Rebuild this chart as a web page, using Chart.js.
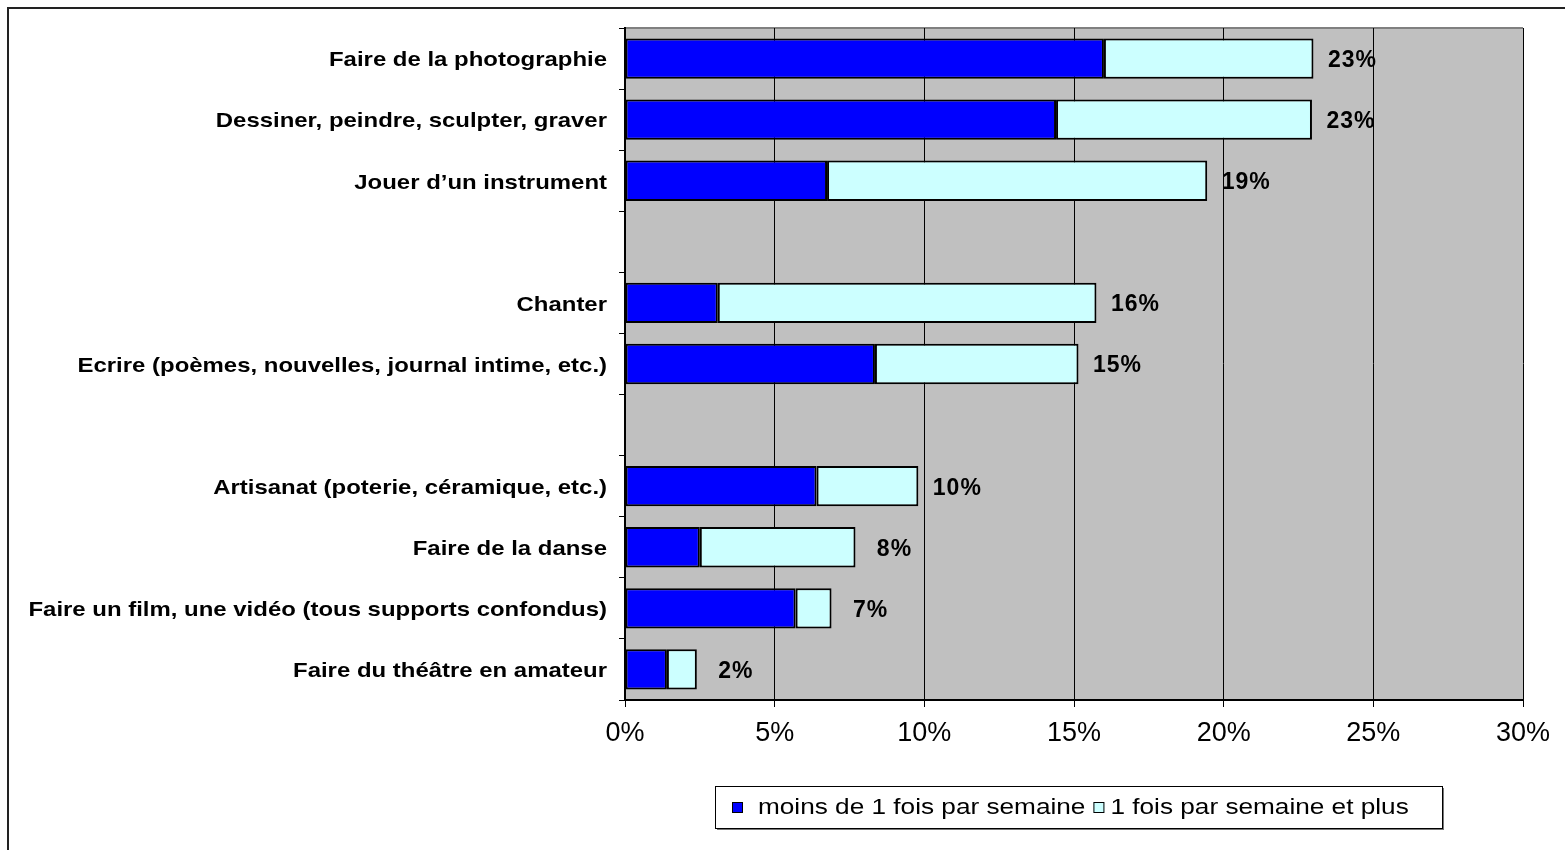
<!DOCTYPE html>
<html>
<head>
<meta charset="utf-8">
<script src="https://cdn.jsdelivr.net/npm/chart.js@4"></script>
<style>
    html, body { margin: 0; padding: 0; background: #fff; overflow: hidden; }
    #wrap { position: relative; width: 1565px; height: 850px; }
    #frame { position: absolute; left: 7px; top: 7px; width: 1600px; height: 900px; border: 2px solid #222; }
</style>
</head>
<body>
<div id="wrap">
    <div id="frame"></div>
    <canvas id="chart" width="1565" height="850" style="position:absolute;left:0;top:0"></canvas>
</div>
<script>
// Categories (empty strings are the gaps between groups)
const categories = [
    'Faire de la photographie',
    'Dessiner, peindre, sculpter, graver',
    'Jouer d\u2019un instrument',
    '',
    'Chanter',
    'Ecrire (poèmes, nouvelles, journal intime, etc.)',
    '',
    'Artisanat (poterie, céramique, etc.)',
    'Faire de la danse',
    'Faire un film, une vidéo (tous supports confondus)',
    'Faire du théâtre en amateur'
];

// moins de 1 fois par semaine (%)
const lessThanWeekly = [16.0, 14.4, 6.75, null, 3.1, 8.35, null, 6.4, 2.5, 5.7, 1.4];
// 1 fois par semaine et plus (%)
const weeklyOrMore = [7.0, 8.55, 12.7, null, 12.65, 6.8, null, 3.4, 5.2, 1.2, 1.0];

const seriesNames = ['moins de 1 fois par semaine', '1 fois par semaine et plus'];
const seriesColors = ['#0000FF', '#CCFFFF'];
const xTicks = [0, 5, 10, 15, 20, 25, 30];

const FONT = '"Liberation Sans", Arial, sans-serif';

// gray plot area
const plotBg = {
    id: 'plotBg',
    beforeDraw(chart) {
        const { ctx, chartArea: a } = chart;
        ctx.save();
        ctx.fillStyle = '#C0C0C0';
        ctx.fillRect(a.left, a.top, a.right - a.left, a.bottom - a.top);
        ctx.strokeStyle = '#808080';
        ctx.lineWidth = 2;
        ctx.beginPath();
        ctx.moveTo(a.left, a.top);
        ctx.lineTo(a.right, a.top);
        ctx.stroke();
        ctx.restore();
    }
};

// text drawn a bit wider than the font, like the original
function wideText(ctx, text, x, y, sx) {
    ctx.save();
    ctx.translate(x, y);
    ctx.scale(sx, 1);
    ctx.fillText(text, 0, 0);
    ctx.restore();
}

// category labels
const catLabels = {
    id: 'catLabels',
    afterDraw(chart) {
        const { ctx, scales } = chart;
        ctx.save();
        ctx.font = 'bold 21px ' + FONT;
        ctx.fillStyle = '#000';
        ctx.textAlign = 'right';
        ctx.textBaseline = 'middle';
        categories.forEach((c, i) => {
            if (!c) return;
            wideText(ctx, c, scales.y.left + 607, scales.y.getPixelForValue(i) + 2, 1.14);
        });
        ctx.restore();
    }
};

// total labels after each bar
const totalLabels = {
    id: 'totalLabels',
    afterDatasetsDraw(chart) {
        const { ctx, scales } = chart;
        ctx.save();
        ctx.font = 'bold 23px ' + FONT;
        ctx.letterSpacing = '1px';
        ctx.fillStyle = '#000';
        ctx.textAlign = 'center';
        ctx.textBaseline = 'middle';
        categories.forEach((c, i) => {
            if (lessThanWeekly[i] == null) return;
            const total = lessThanWeekly[i] + weeklyOrMore[i];
            const x = scales.x.getPixelForValue(total) + 39;
            const y = scales.y.getPixelForValue(i);
            ctx.fillText(Math.round(total) + '%', x, y + 2);
        });
        ctx.restore();
    }
};

// legend box under the plot
const boxLegend = {
    id: 'boxLegend',
    afterDraw(chart) {
        const { ctx } = chart;
        const bx = 715, by = 786, bw = 727, bh = 42, sx = 1.19;
        ctx.save();
        ctx.fillStyle = '#777';
        ctx.fillRect(bx + 2, by + 2, bw, bh);
        ctx.fillStyle = '#fff';
        ctx.fillRect(bx, by, bw, bh);
        ctx.strokeStyle = '#000';
        ctx.lineWidth = 1;
        ctx.strokeRect(bx + 0.5, by + 0.5, bw, bh);
        ctx.font = '22px ' + FONT;
        ctx.textBaseline = 'middle';
        ctx.textAlign = 'left';
        let x = bx + 17;
        const cy = by + bh / 2;
        seriesNames.forEach((n, i) => {
            ctx.fillStyle = seriesColors[i];
            ctx.fillRect(x, cy - 5, 11, 11);
            ctx.strokeRect(x + 0.5, cy - 4.5, 10, 10);
            x += i === 0 ? 26 : 17;
            ctx.fillStyle = '#000';
            wideText(ctx, n, x, cy + 1, sx);
            x += ctx.measureText(n).width * sx + 8;
        });
        ctx.restore();
    }
};

new Chart(document.getElementById('chart').getContext('2d'), {
    type: 'bar',
    data: {
        labels: categories,
        datasets: [{
            label: seriesNames[0],
            data: lessThanWeekly,
            backgroundColor: seriesColors[0],
            borderColor: '#000',
            borderWidth: 2,
            borderSkipped: false,
            barPercentage: 0.66,
            categoryPercentage: 1
        }, {
            label: seriesNames[1],
            data: weeklyOrMore,
            backgroundColor: seriesColors[1],
            borderColor: '#000',
            borderWidth: 2,
            borderSkipped: false,
            barPercentage: 0.66,
            categoryPercentage: 1
        }]
    },
    options: {
        indexAxis: 'y',
        responsive: false,
        animation: false,
        layout: { padding: { top: 28, right: 42, bottom: 0, left: 0 } },
        plugins: {
            legend: { display: false },
            tooltip: { enabled: false }
        },
        scales: {
            x: {
                stacked: true,
                min: 0,
                max: 30,
                afterBuildTicks: s => { s.ticks = xTicks.map(v => ({ value: v })); },
                afterFit: s => { s.height = 150; },
                ticks: {
                    callback: v => v + '%',
                    color: '#000',
                    font: { family: FONT, size: 27 },
                    padding: 10,
                    maxRotation: 0
                },
                grid: { color: '#000', lineWidth: 1, tickLength: 7, drawTicks: true },
                border: { color: '#000', width: 2 }
            },
            y: {
                stacked: true,
                afterFit: s => { s.width = 625; },
                ticks: { display: false },
                grid: { offset: true, drawOnChartArea: false, color: '#000', tickLength: 6 },
                border: { color: '#000', width: 2 }
            }
        }
    },
    plugins: [plotBg, catLabels, totalLabels, boxLegend]
});
</script>
</body>
</html>
